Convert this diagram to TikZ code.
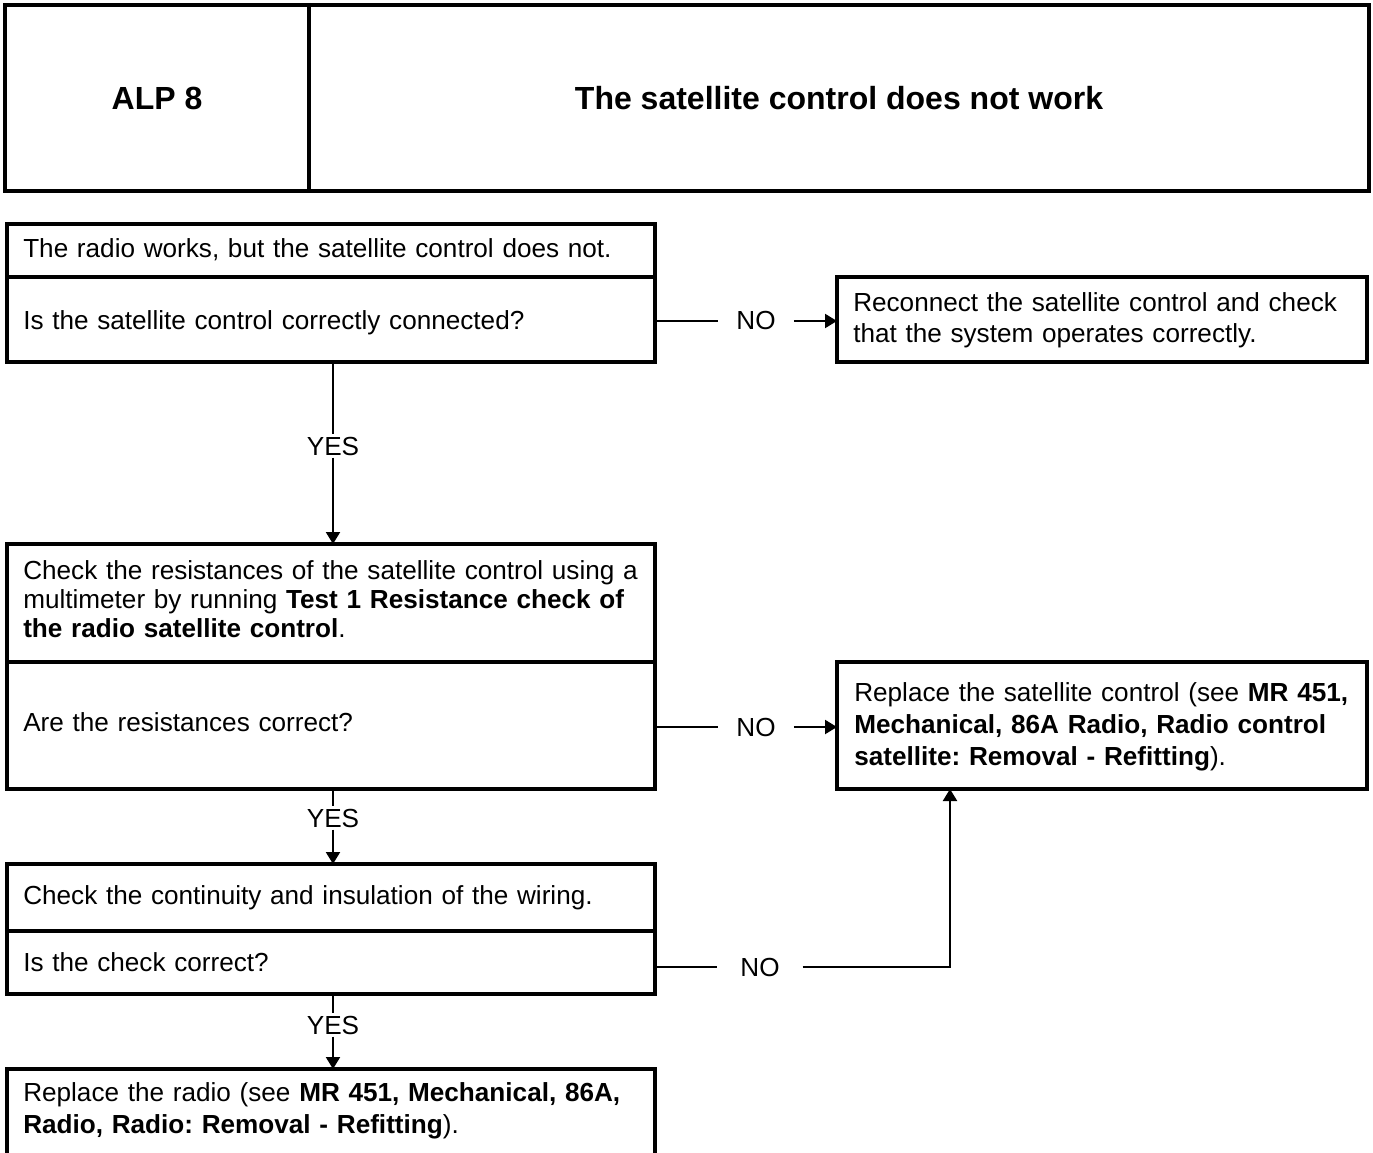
\documentclass[tikz,border=0pt]{standalone}
\usepackage{fontspec}
\setmainfont{Liberation Sans}
\usetikzlibrary{arrows.meta}
\frenchspacing
\begin{document}
\frenchspacing
\begin{tikzpicture}[x=0.75pt,y=-0.75pt,
  box/.style={draw,line width=2.4pt,rectangle,anchor=north west,inner sep=0pt,outer sep=0pt},
  divline/.style={line width=2.4pt},
  txt/.style={anchor=base west,inner sep=0pt,align=left,text width=560pt,font=\fontsize{19.6}{23}\selectfont},
  rtxt/.style={txt,text width=420pt},
  conn/.style={line width=1.6pt},
  tip/.style={-{Triangle[length=9pt,width=10.5pt]}},
  yeslbl/.style={inner xsep=1pt,inner ysep=1.5pt,font=\fontsize{19.6}{23}\selectfont},
  nolbl/.style={inner xsep=13.5pt,inner ysep=1.5pt,font=\fontsize{19.6}{23}\selectfont},
  head/.style={font=\bfseries\fontsize{24}{28}\selectfont}]

\useasboundingbox[fill=white] (0,0) rectangle (1373,1152);

% header
\node[box,minimum width=1023pt,minimum height=139.5pt] (hdr) at (5,5) {};
\draw[divline] (309,3) -- (309,191);
\node[head] (alp) at (157,98) {ALP 8};
\node[head] (title) at (839,98) {The satellite control does not work};

% box 1
\node[box,minimum width=486pt,minimum height=103.5pt] (b1) at (7,224) {};
\draw[divline] (7,277) -- (655,277);
\node[txt] (t1a) at (23,257) {The radio works, but the satellite control does not.};
\node[txt] (t1b) at (23,329) {Is the satellite control correctly connected?};

% right box 1
\node[box,minimum width=397.5pt,minimum height=63.75pt] (r1) at (837,277) {};
\node[rtxt,font=\fontsize{19.6}{23.25}\selectfont] (tr1) at (853,311) {Reconnect the satellite control and check\\that the system operates correctly.};

% box 2
\node[box,minimum width=486pt,minimum height=183.75pt] (b2) at (7,544) {};
\draw[divline] (7,662) -- (655,662);
\node[txt,font=\fontsize{19.6}{21.75}\selectfont] (t2a) at (23,579) {Check the resistances of the satellite control using a\\multimeter by running \textbf{Test 1 Resistance check of}\\\textbf{the radio satellite control}.};
\node[txt] (t2b) at (23,731) {Are the resistances correct?};

% right box 2
\node[box,minimum width=397.5pt,minimum height=95.25pt] (r2) at (837,662) {};
\node[rtxt,font=\fontsize{19.6}{24}\selectfont] (tr2) at (854,701) {Replace the satellite control (see \textbf{MR 451,}\\\textbf{Mechanical, 86A Radio, Radio control}\\\textbf{satellite: Removal - Refitting}).};

% box 3
\node[box,minimum width=486pt,minimum height=97.5pt] (b3) at (7,864) {};
\draw[divline] (7,931) -- (655,931);
\node[txt] (t3a) at (23,904) {Check the continuity and insulation of the wiring.};
\node[txt] (t3b) at (23,971) {Is the check correct?};

% box 4
\node[box,minimum width=486pt,minimum height=72pt] (b4) at (7,1069) {};
\node[txt,font=\fontsize{19.6}{24}\selectfont] (t4) at (23,1101) {Replace the radio (see \textbf{MR 451, Mechanical, 86A,}\\\textbf{Radio, Radio: Removal - Refitting}).};

% labels
\node[yeslbl] (y1) at (333,446) {YES};
\node[yeslbl] (y2) at (333,818) {YES};
\node[yeslbl] (y3) at (333,1025) {YES};
\node[nolbl] (n1) at (756,321) {NO};
\node[nolbl] (n2) at (756,727) {NO};
\node[nolbl,inner xsep=17pt] (n3) at (760,967) {NO};
\coordinate (k3) at (950,967);

% connectors
\draw[conn] (b1.south -| y1) -- (y1.north);
\draw[conn,tip] (y1.south) -- (b2.north -| y1);
\draw[conn] (b2.south -| y2) -- (y2.north);
\draw[conn,tip] (y2.south) -- (b3.north -| y2);
\draw[conn] (b3.south -| y3) -- (y3.north);
\draw[conn,tip] (y3.south) -- (b4.north -| y3);

\draw[conn] (b1.east |- n1) -- (n1.west);
\draw[conn,tip] (n1.east) -- (r1.west |- n1);
\draw[conn] (b2.east |- n2) -- (n2.west);
\draw[conn,tip] (n2.east) -- (r2.west |- n2);
\draw[conn] (b3.east |- n3) -- (n3.west);
\draw[conn,tip] (n3.east) -- (k3) -- (r2.south -| k3);
\end{tikzpicture}
\end{document}
